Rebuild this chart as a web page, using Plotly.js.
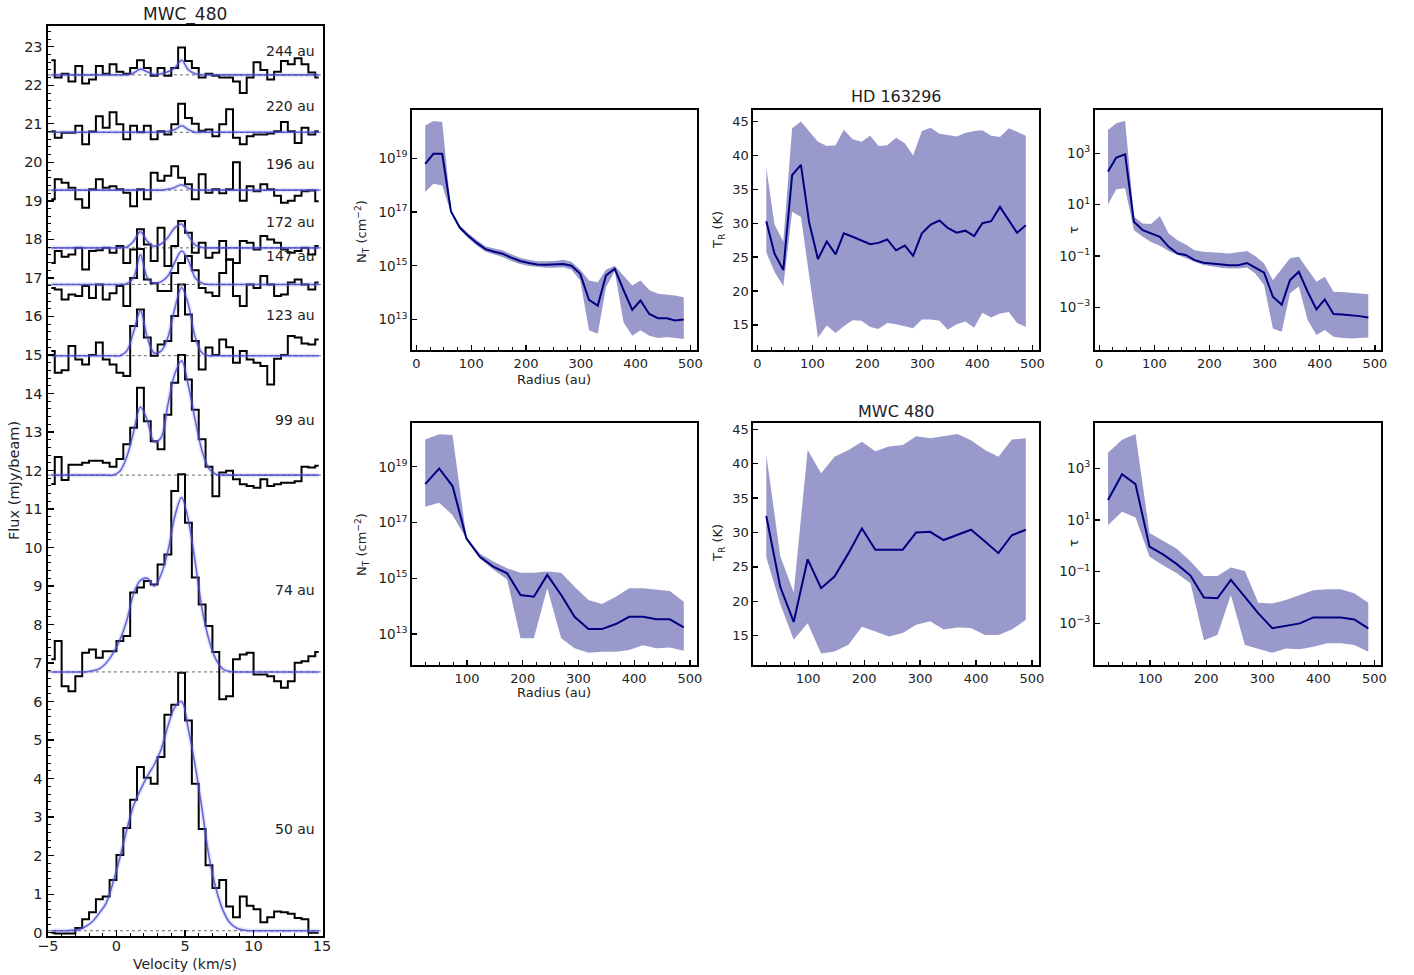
<!DOCTYPE html>
<html><head><meta charset="utf-8">
<script src="https://cdn.plot.ly/plotly-3.0.1.min.js"></script>
<style>body{margin:0;background:#fff}#chart{width:1414px;height:975px}</style>
</head><body><div id="chart"></div>
<script>
// ---------------- Left panel: MWC_480 spectra ----------------
const velocity = [-4.75,-4.25,-3.75,-3.25,-2.75,-2.25,-1.75,-1.25,-0.75,-0.25,0.25,0.75,1.25,1.75,2.25,2.75,3.25,3.75,4.25,4.75,5.25,5.75,6.25,6.75,7.25,7.75,8.25,8.75,9.25,9.75,10.25,10.75,11.25,11.75,12.25,12.75,13.25,13.75,14.25,14.75];
const spectrumLabels = ["50 au","74 au","99 au","123 au","147 au","172 au","196 au","220 au","244 au"];
const baselineOffsets = [0.05, 6.77, 11.88, 14.98, 16.83, 17.78, 19.28, 20.78, 22.27];

const flux50  = [0.0,-0.02,-0.02,-0.02,0.12,0.35,0.53,0.87,0.94,1.37,2.02,2.72,3.45,4.3,4.02,3.87,4.56,5.66,5.92,6.75,5.51,3.87,2.69,1.75,1.16,1.37,0.68,0.4,0.94,0.7,0.61,0.27,0.4,0.55,0.53,0.49,0.38,0.35,0.0,0.0];
const flux74  = [7.1,7.57,6.4,6.27,6.66,7.27,7.35,7.14,7.31,7.31,7.57,7.7,8.83,8.96,9.13,9.04,9.56,9.82,11.47,11.9,10.64,9.22,8.52,7.96,7.29,6.06,6.14,7.1,7.22,7.27,6.7,6.7,6.66,6.53,6.36,6.53,7.01,7.05,7.18,7.29];
const flux99  = [11.65,12.35,11.75,12.15,12.15,12.2,12.25,12.25,12.2,12.1,12.3,12.68,13.11,14.15,13.28,12.76,12.55,13.45,14.28,15.0,14.36,13.58,12.81,12.1,11.33,11.95,11.99,11.77,11.64,11.6,11.55,11.77,11.6,11.64,11.68,11.68,11.72,12.1,12.08,12.12];
const flux123 = [15.1,14.54,14.6,15.23,14.88,14.75,15.0,15.32,14.88,14.75,14.54,14.45,15.75,16.18,15.45,14.98,15.27,15.36,16.01,16.83,16.05,15.36,14.62,15.19,15.0,15.4,15.2,14.8,15.1,14.88,14.8,14.71,14.23,14.9,15.0,15.49,15.45,15.3,15.27,15.4];
const flux147 = [16.74,16.7,16.44,16.57,16.53,16.79,16.48,16.83,16.44,16.6,16.79,16.27,17.0,17.75,16.96,16.86,16.66,16.66,17.13,17.39,17.57,17.2,16.74,16.62,16.53,17.13,17.48,16.53,16.27,16.83,16.74,17.05,16.83,16.53,16.57,16.88,16.96,16.83,16.7,16.88];
const flux172 = [17.39,17.7,17.55,17.61,17.78,17.22,17.7,17.72,17.78,17.65,17.83,17.39,17.74,18.26,17.87,17.44,18.3,17.31,17.83,18.48,18.17,17.65,17.91,17.52,17.65,17.96,17.48,17.39,17.96,17.91,17.74,18.09,18.0,17.91,17.74,17.65,17.7,17.78,17.61,17.83];
const flux196 = [19.04,19.56,19.47,19.34,19.04,18.82,19.3,19.56,19.34,19.38,19.3,19.21,18.86,19.3,19.04,19.73,19.52,19.65,19.9,19.6,19.43,19.04,19.69,19.21,19.3,19.2,19.3,20.0,19.0,19.38,19.25,19.43,19.3,19.13,18.95,19.0,19.13,19.25,19.27,18.99];
const flux220 = [20.81,20.64,20.77,20.77,20.95,20.47,20.8,21.2,20.9,21.3,20.99,20.6,20.95,20.78,20.95,20.6,20.81,20.72,20.99,21.52,21.15,21.0,20.82,20.85,20.68,20.99,21.38,20.64,20.47,20.68,20.72,20.72,20.75,20.81,21.05,20.81,20.5,20.9,20.72,20.81];
const flux244 = [22.65,22.2,22.3,22.1,22.5,22.05,22.15,22.5,22.3,22.55,22.35,22.3,22.45,22.65,22.45,22.25,22.45,22.25,22.45,22.98,22.63,22.45,22.2,22.3,22.25,22.2,22.2,22.1,21.8,22.2,22.6,22.4,22.15,22.35,22.63,22.55,22.7,22.55,22.33,22.2];

const model50  = [0.05,0.05,0.05,0.06,0.08,0.16,0.29,0.51,0.77,1.3,1.95,2.67,3.3,3.71,4.06,4.36,4.75,5.36,5.85,6.0,5.27,4.32,3.19,1.98,1.16,0.6,0.27,0.12,0.07,0.05,0.05,0.05,0.05,0.05,0.05,0.05,0.05,0.05,0.05,0.05];
const model74  = [6.77,6.77,6.77,6.77,6.77,6.77,6.8,6.85,7.0,7.25,7.6,8.1,8.8,9.15,9.2,9.0,9.3,9.9,10.8,11.3,10.7,9.6,8.4,7.6,7.1,6.85,6.78,6.77,6.77,6.77,6.77,6.77,6.77,6.77,6.77,6.77,6.77,6.77,6.77,6.77];
const model99  = [11.88,11.88,11.88,11.88,11.88,11.88,11.88,11.88,11.88,11.88,11.98,12.35,13.0,13.65,13.3,12.75,12.85,13.7,14.5,14.85,14.2,13.3,12.5,12.05,11.9,11.88,11.88,11.88,11.88,11.88,11.88,11.88,11.88,11.88,11.88,11.88,11.88,11.88,11.88,11.88];
const model123 = [14.98,14.98,14.98,14.98,14.98,14.98,14.98,14.98,14.98,14.98,14.98,15.1,15.6,16.15,15.45,15.05,15.1,15.45,16.2,16.75,16.3,15.45,15.05,14.98,14.98,14.98,14.98,14.98,14.98,14.98,14.98,14.98,14.98,14.98,14.98,14.98,14.98,14.98,14.98,14.98];
const model147 = [16.83,16.83,16.83,16.83,16.83,16.83,16.83,16.83,16.83,16.83,16.83,16.85,17.0,17.6,17.0,16.86,16.9,17.05,17.4,17.7,17.45,17.0,16.86,16.83,16.83,16.83,16.83,16.83,16.83,16.83,16.83,16.83,16.83,16.83,16.83,16.83,16.83,16.83,16.83,16.83];
const model172 = [17.78,17.78,17.78,17.78,17.78,17.78,17.78,17.78,17.78,17.78,17.78,17.8,17.95,18.2,17.95,17.82,17.88,18.05,18.3,18.4,18.1,17.85,17.79,17.78,17.78,17.78,17.78,17.78,17.78,17.78,17.78,17.78,17.78,17.78,17.78,17.78,17.78,17.78,17.78,17.78];
const model196 = [19.28,19.28,19.28,19.28,19.28,19.28,19.28,19.28,19.28,19.28,19.28,19.28,19.28,19.28,19.28,19.28,19.28,19.3,19.35,19.42,19.33,19.28,19.28,19.28,19.28,19.28,19.28,19.28,19.28,19.28,19.28,19.28,19.28,19.28,19.28,19.28,19.28,19.28,19.28,19.28];
const model220 = [20.78,20.78,20.78,20.78,20.78,20.78,20.78,20.78,20.78,20.78,20.78,20.78,20.78,20.78,20.78,20.78,20.78,20.8,20.85,20.95,20.85,20.78,20.78,20.78,20.78,20.78,20.78,20.78,20.78,20.78,20.78,20.78,20.78,20.78,20.78,20.78,20.78,20.78,20.78,20.78];
const model244 = [22.27,22.27,22.27,22.27,22.27,22.27,22.27,22.27,22.27,22.27,22.27,22.27,22.32,22.42,22.35,22.28,22.3,22.35,22.45,22.65,22.4,22.3,22.27,22.27,22.27,22.27,22.27,22.27,22.27,22.27,22.27,22.27,22.27,22.27,22.27,22.27,22.27,22.27,22.27,22.27];

// ---------------- HD 163296 radial profiles ----------------
const radiusHD = [16,31,47,63,79,94,110,126,142,157,173,189,205,220,236,252,268,283,299,315,331,346,362,378,394,409,425,441,457,472,488];
const ntHD    = [6.17e18,1.45e19,1.45e19,1.05e17,2.63e16,1.32e16,7.08e15,4.17e15,3.31e15,2.82e15,2.0e15,1.51e15,1.26e15,1.12e15,1.1e15,1.12e15,1.17e15,1.0e15,5.01e14,5.37e13,3.31e13,4.37e14,7.76e14,1.26e14,2.29e13,5.13e13,1.62e13,1.12e13,1.12e13,9.33e12,1.0e13];
const ntHDhi  = [1.62e20,2.4e20,2.19e20,1.2e17,3.16e16,1.66e16,9.12e15,5.37e15,4.37e15,3.8e15,2.69e15,2.0e15,1.66e15,1.48e15,1.48e15,1.51e15,1.66e15,1.41e15,7.08e14,2.82e14,2.45e14,7.08e14,1.0e15,4.47e14,1.86e14,2.82e14,1.26e14,9.12e13,8.71e13,7.94e13,6.76e13];
const ntHDlo  = [5.5e17,1.12e18,9.55e17,9.33e16,2.24e16,1.07e16,5.62e15,3.31e15,2.63e15,2.14e15,1.51e15,1.17e15,9.77e14,8.91e14,8.51e14,8.51e14,8.91e14,7.08e14,2.82e14,3.98e12,2.95e12,1.58e14,6.31e14,7.94e12,2.51e12,3.98e12,2.51e12,2.09e12,2.24e12,2.09e12,1.91e12];
const trHD    = [30.3,25.5,23.1,37.1,38.6,30.1,24.7,27.3,25.4,28.5,28.0,27.5,26.9,27.1,27.6,26.0,26.7,25.2,28.5,29.8,30.4,29.3,28.6,28.9,28.1,30.0,30.3,32.4,30.5,28.6,29.7];
const trHDhi  = [38.2,29.8,27.3,44.0,45.0,43.5,42.0,41.4,41.5,43.8,42.4,42.0,42.9,41.4,41.5,42.6,41.8,40.0,43.6,44.1,43.2,43.0,42.8,43.3,43.6,43.7,42.9,42.7,44.0,43.5,42.9];
const trHDlo  = [25.7,22.8,20.7,31.7,30.9,22.0,13.1,14.9,13.8,14.8,15.7,15.6,14.7,14.4,15.3,15.1,14.8,14.5,15.8,15.8,15.6,14.3,15.1,15.5,14.6,16.8,16.1,16.7,16.9,15.3,14.7];
const tauHD   = [195,692,912,2.19,1.02,0.759,0.562,0.229,0.126,0.110,0.0692,0.055,0.0513,0.0457,0.0437,0.0437,0.0537,0.0355,0.0224,0.00263,0.00126,0.0115,0.0245,0.00407,0.000832,0.00204,0.00055,0.000525,0.000501,0.000457,0.000407];
const tauHDhi = [8130,14800,18600,3.39,1.86,1.78,3.63,0.759,0.417,0.282,0.17,0.148,0.141,0.132,0.126,0.141,0.158,0.1,0.0513,0.0115,0.0316,0.0813,0.0933,0.0316,0.01,0.0155,0.00407,0.00398,0.00372,0.00347,0.00324];
const tauHDlo = [10.2,39.8,43.7,1.02,0.562,0.355,0.251,0.158,0.112,0.0813,0.0603,0.0447,0.038,0.0347,0.0331,0.0331,0.0355,0.0209,0.00741,0.000151,0.000112,0.00355,0.00646,0.000324,0.0000832,0.000132,0.0000724,0.0000646,0.0000617,0.0000661,0.0000676];

// ---------------- MWC 480 radial profiles ----------------
const radiusMWC = [25,50,74,99,123,147,172,196,220,244,269,293,318,342,367,391,416,440,464,489];
const ntMWC    = [2.4e18,8.71e18,2.04e18,2.69e16,5.89e15,2.63e15,1.51e15,2.51e14,2.19e14,1.32e15,2.51e14,4.17e13,1.51e13,1.51e13,2.29e13,4.17e13,4.17e13,3.39e13,3.39e13,1.74e13];
const ntMWChi  = [9.55e19,1.48e20,1.38e20,2.82e16,7.76e15,3.98e15,2.29e15,1.58e15,1.58e15,1.74e15,1.58e15,5.01e14,1.66e14,1.2e14,2.19e14,4.37e14,4.37e14,3.98e14,3.47e14,1.45e14];
const ntMWClo  = [3.72e17,5.13e17,1.86e17,2.57e16,5.13e15,2.09e15,9.12e14,7.08e12,7.08e12,4.37e14,7.08e12,3.09e12,2.14e12,2.34e12,2.34e12,2.69e12,3.98e12,3.09e12,3.31e12,2.51e12];
const trMWC    = [32.4,22.1,17.0,26.1,21.9,23.6,27.0,30.6,27.5,27.5,27.5,30.0,30.1,28.9,29.7,30.4,28.7,27.0,29.6,30.4];
const trMWChi  = [41.3,26.6,21.3,42.0,38.6,41.0,42.0,43.2,41.8,42.5,42.7,44.0,43.7,44.0,44.3,43.4,42.0,41.0,43.5,43.7];
const trMWClo  = [26.4,19.6,14.4,16.8,12.4,12.7,13.7,16.3,15.6,14.9,15.4,16.6,17.1,15.9,16.2,16.1,15.1,15.1,15.9,17.3];
const tauMWC   = [58.9,589,245,0.933,0.468,0.2,0.0708,0.01,0.00933,0.0479,0.0107,0.00245,0.000646,0.000794,0.001,0.0017,0.0017,0.0017,0.00141,0.000646];
const tauMWChi = [3980,12600,21400,3.16,1.58,0.794,0.251,0.0676,0.0676,0.145,0.107,0.00631,0.00589,0.00794,0.0126,0.0191,0.0209,0.0209,0.0145,0.00631];
const tauMWClo = [6.46,20.9,12.6,0.38,0.178,0.0891,0.0355,0.000224,0.000355,0.0126,0.000145,0.0001,0.0000724,0.000107,0.0001,0.000126,0.00017,0.00017,0.000145,0.0000794];

// tick labels for the log axes
const ntTickVals = [1e13, 1e15, 1e17, 1e19];
const ntTickText = ['10<sup>13</sup>','10<sup>15</sup>','10<sup>17</sup>','10<sup>19</sup>'];
const tauTickVals = [1e-3, 1e-1, 1e1, 1e3];
const tauTickText = ['10<sup>−3</sup>','10<sup>−1</sup>','10<sup>1</sup>','10<sup>3</sup>'];

// ---------------- build traces ----------------
const fluxes = [flux50,flux74,flux99,flux123,flux147,flux172,flux196,flux220,flux244];
const models = [model50,model74,model99,model123,model147,model172,model196,model220,model244];
const labelY = [2.68, 8.91, 13.32, 16.03, 17.56, 18.44, 19.95, 21.45, 22.9];

const traces = [];
fluxes.forEach((f, i) => {
  traces.push({x:[-5,15], y:[baselineOffsets[i], baselineOffsets[i]], xaxis:'x', yaxis:'y', mode:'lines',
    line:{color:'#666', width:1, dash:'dot'}, hoverinfo:'skip'});
  traces.push({x:velocity, y:f, xaxis:'x', yaxis:'y', mode:'lines',
    line:{color:'black', width:2, shape:'hvh'}});
  traces.push({x:velocity, y:models[i], xaxis:'x', yaxis:'y', mode:'lines',
    line:{color:'rgba(130,130,235,0.2)', width:4.5, shape:'spline', smoothing:1}});
  traces.push({x:velocity, y:models[i], xaxis:'x', yaxis:'y', mode:'lines',
    line:{color:'rgba(70,70,210,0.8)', width:1.6, shape:'spline', smoothing:1}});
});

function band(r, lo, hi, med, xa, ya) {
  traces.push({x:r, y:lo, xaxis:xa, yaxis:ya, mode:'lines', line:{width:0, color:'rgba(0,0,128,0)'}});
  traces.push({x:r, y:hi, xaxis:xa, yaxis:ya, mode:'lines', fill:'tonexty',
    fillcolor:'rgba(0,0,128,0.4)', line:{width:0, color:'rgba(0,0,128,0)'}});
  traces.push({x:r, y:med, xaxis:xa, yaxis:ya, mode:'lines', line:{color:'rgb(0,0,128)', width:2}});
}
band(radiusHD, ntHDlo, ntHDhi, ntHD, 'x2', 'y2');
band(radiusHD, trHDlo, trHDhi, trHD, 'x3', 'y3');
band(radiusHD, tauHDlo, tauHDhi, tauHD, 'x4', 'y4');
band(radiusMWC, ntMWClo, ntMWChi, ntMWC, 'x5', 'y5');
band(radiusMWC, trMWClo, trMWChi, trMWC, 'x6', 'y6');
band(radiusMWC, tauMWClo, tauMWChi, tauMWC, 'x7', 'y7');

// ---------------- layout ----------------
const W = 1414, H = 975;
const px = v => v / W, py = v => 1 - v / H;
const base = {showline:true, linecolor:'black', linewidth:2, mirror:true, ticks:'inside',
  tickcolor:'black', tickwidth:1.3, ticklen:5, showgrid:false, zeroline:false,
  tickfont:{family:'DejaVu Sans', size:13, color:'#222'}};
const rxMinor = {ticks:'inside', dtick:25, ticklen:3, tickcolor:'black', tickwidth:1, showgrid:false};
const colsX = [[412.3,696.7],[753.3,1038.8],[1095,1381.3]];
const topY = [350,110], botY = [665,423.3];
const logNT = {type:'log', tickmode:'array', tickvals:ntTickVals, ticktext:ntTickText,
  tickfont:{family:'DejaVu Sans', size:13.5, color:'#222'}};
const logTau = {type:'log', tickmode:'array', tickvals:tauTickVals, ticktext:tauTickText,
  tickfont:{family:'DejaVu Sans', size:13.5, color:'#222'}};

const layout = {
  width:W, height:H, margin:{l:0,r:0,t:0,b:0}, showlegend:false,
  paper_bgcolor:'white', plot_bgcolor:'white',
  font:{family:'DejaVu Sans', color:'#222'},
  xaxis:Object.assign({}, base, {domain:[px(47.5), px(322.5)], range:[-5.03,15.03], anchor:'y',
    tick0:0, dtick:5, ticklen:6, ticklabelstandoff:-4, tickfont:{family:'DejaVu Sans', size:14.5, color:'#222'},
    minor:{ticks:'inside', dtick:1, ticklen:3, tickcolor:'black', tickwidth:1, showgrid:false}}),
  yaxis:Object.assign({}, base, {domain:[py(936), py(26)], range:[-0.086,23.54], anchor:'x',
    tick0:0, dtick:1, ticklen:6, tickfont:{family:'DejaVu Sans', size:14.5, color:'#222'},
    minor:{ticks:'inside', dtick:0.2, ticklen:3, tickcolor:'black', tickwidth:1, showgrid:false}}),
  xaxis2:Object.assign({}, base, {domain:[px(colsX[0][0]), px(colsX[0][1])], range:[-7.6,511.6], anchor:'y2', tick0:0, dtick:100, minor:rxMinor}),
  yaxis2:Object.assign({}, base, logNT, {domain:[py(topY[0]), py(topY[1])], range:[11.87,20.79], anchor:'x2'}),
  xaxis3:Object.assign({}, base, {domain:[px(colsX[1][0]), px(colsX[1][1])], range:[-7.6,511.6], anchor:'y3', tick0:0, dtick:100, minor:rxMinor}),
  yaxis3:Object.assign({}, base, {domain:[py(topY[0]), py(topY[1])], range:[11.3,46.7], anchor:'x3', tick0:0, dtick:5}),
  xaxis4:Object.assign({}, base, {domain:[px(colsX[2][0]), px(colsX[2][1])], range:[-7.6,511.6], anchor:'y4', tick0:0, dtick:100, minor:rxMinor}),
  yaxis4:Object.assign({}, base, logTau, {domain:[py(topY[0]), py(topY[1])], range:[-4.66,4.69], anchor:'x4'}),
  xaxis5:Object.assign({}, base, {domain:[px(colsX[0][0]), px(colsX[0][1])], range:[1.8,512.2], anchor:'y5', tick0:0, dtick:100, minor:rxMinor}),
  yaxis5:Object.assign({}, base, logNT, {domain:[py(botY[0]), py(botY[1])], range:[11.89,20.56], anchor:'x5'}),
  xaxis6:Object.assign({}, base, {domain:[px(colsX[1][0]), px(colsX[1][1])], range:[1.8,512.2], anchor:'y6', tick0:0, dtick:100, minor:rxMinor}),
  yaxis6:Object.assign({}, base, {domain:[py(botY[0]), py(botY[1])], range:[10.74,45.87], anchor:'x6', tick0:0, dtick:5}),
  xaxis7:Object.assign({}, base, {domain:[px(colsX[2][0]), px(colsX[2][1])], range:[1.8,512.2], anchor:'y7', tick0:0, dtick:100, minor:rxMinor}),
  yaxis7:Object.assign({}, base, logTau, {domain:[py(botY[0]), py(botY[1])], range:[-4.61,4.74], anchor:'x7'}),
  annotations:[]
};

const ann = (text, x, y, size, extra) => layout.annotations.push(Object.assign(
  {text:text, x:x, y:y, xref:'paper', yref:'paper', xanchor:'center', yanchor:'middle', showarrow:false,
   font:{family:'DejaVu Sans', size:size, color:'#222'}}, extra || {}));

ann('MWC_480', px(185), py(15), 17);
ann('Flux (mJy/beam)', px(14), py(481), 14.5, {textangle:-90});
ann('Velocity (km/s)', px(185), py(964), 14);
spectrumLabels.forEach((t, i) => layout.annotations.push({text:t, x:14.6, y:labelY[i], xref:'x', yref:'y',
  xanchor:'right', yanchor:'middle', showarrow:false, font:{family:'DejaVu Sans', size:14, color:'#222'}}));

ann('HD 163296', px(896), py(97), 16);
ann('MWC 480', px(896), py(411), 16);
ann('N<sub>T</sub> (cm<sup>−2</sup>)', px(362), py(232), 13, {textangle:-90});
ann('N<sub>T</sub> (cm<sup>−2</sup>)', px(362), py(545), 13, {textangle:-90});
ann('T<sub>R</sub> (K)', px(718), py(230), 13, {textangle:-90});
ann('T<sub>R</sub> (K)', px(718), py(543), 13, {textangle:-90});
ann('τ', px(1073), py(230), 13, {textangle:-90});
ann('τ', px(1073), py(543), 13, {textangle:-90});
ann('Radius (au)', px(554), py(379), 13);
ann('Radius (au)', px(554), py(692), 13);

Plotly.newPlot('chart', traces, layout, {staticPlot:true, displayModeBar:false});
</script>
</body></html>
